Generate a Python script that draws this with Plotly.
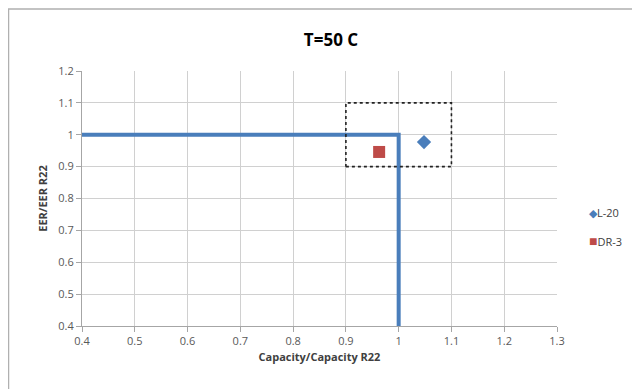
import plotly.graph_objects as go

# Data
boundary_x = [0.4, 1.0, 1.0]
boundary_y = [1.0, 1.0, 0.4]
box_x = [0.9, 1.1, 1.1, 0.9, 0.9]
box_y = [0.9, 0.9, 1.1, 1.1, 0.9]
series_names = ["L-20", "DR-3"]
series_colors = ["#4a7ebb", "#be4b48"]
series_symbols = ["diamond", "square"]
series_glyphs = ["◆", "■"]
series_x = [1.048, 0.963]
series_y = [0.977, 0.946]
x_ticks = [0.4, 0.5, 0.6, 0.7, 0.8, 0.9, 1.0, 1.1, 1.2, 1.3]
x_labels = ["0.4", "0.5", "0.6", "0.7", "0.8", "0.9", "1", "1.1", "1.2", "1.3"]
y_ticks = [0.4, 0.5, 0.6, 0.7, 0.8, 0.9, 1.0, 1.1, 1.2]
y_labels = ["0.4", "0.5", "0.6", "0.7", "0.8", "0.9", "1", "1.1", "1.2"]

# the page body has an 8px margin; positions below are in window pixels minus OFF
OFF = 8
W, H = 640 - OFF, 389 - OFF
L, R, T, B = 82 - OFF, 640 - 557, 71 - OFF, 389 - 326
pw, ph = W - L - R, H - T - B
FONT = "Open Sans, Liberation Sans, sans-serif"

fig = go.Figure()
fig.add_trace(go.Scatter(x=boundary_x, y=boundary_y, mode="lines",
                         line=dict(color="#4a7ebb", width=4), showlegend=False, hoverinfo="skip"))
fig.add_trace(go.Scatter(x=box_x, y=box_y, mode="lines",
                         line=dict(color="#222222", width=1.6, dash="dot"), showlegend=False, hoverinfo="skip"))
marker_sizes = [11, 12]
for i in range(len(series_names)):
    fig.add_trace(go.Scatter(x=[series_x[i]], y=[series_y[i]], mode="markers", name=series_names[i],
                             showlegend=False,
                             marker=dict(symbol=series_symbols[i], size=marker_sizes[i], color=series_colors[i])))

axis_common = dict(showgrid=True, gridcolor="#d0d0d0", gridwidth=1, zeroline=False,
                   showline=True, linecolor="#a6a6a6", linewidth=1, automargin=False,
                   ticks="outside", ticklen=5, tickcolor="#a6a6a6",
                   tickfont=dict(family=FONT, size=11, color="#595959"))

# manual legend (compact, like the reference)
legend_rows_y = [212, 240]
glyph_sizes = [11, 14]
annotations = []
for i in range(len(series_names)):
    annotations.append(dict(
        xref="paper", yref="paper", x=(587 - OFF - L) / pw, y=1 - (legend_rows_y[i] - OFF - T) / ph,
        xanchor="left", yanchor="middle", showarrow=False,
        text=(f"<span style='color:{series_colors[i]};font-size:{glyph_sizes[i]}px'>{series_glyphs[i]}</span>"
              f"{series_names[i]}"),
        font=dict(family=FONT, size=11, color="#404040")))

fig.update_layout(
    width=W, height=H,
    margin=dict(l=L, r=R, t=T, b=B, autoexpand=False),
    paper_bgcolor="white", plot_bgcolor="white",
    showlegend=False,
    title=dict(text="<b>T=50 C</b>", x=(331 - OFF) / W, xanchor="center", y=1 - (40 - OFF) / H,
               yanchor="middle", font=dict(family=FONT, size=17, color="#000000"), automargin=False),
    xaxis=dict(range=[0.4, 1.3], tickvals=x_ticks, ticktext=x_labels,
               title=dict(text="<b>Capacity/Capacity R22</b>", standoff=6,
                          font=dict(family=FONT, size=11, color="#404040")),
               **axis_common),
    yaxis=dict(range=[0.4, 1.2], tickvals=y_ticks, ticktext=y_labels,
               title=dict(text="<b>EER/EER R22</b>", standoff=8,
                          font=dict(family=FONT, size=11, color="#404040")),
               **axis_common),
    annotations=annotations,
    shapes=[dict(type="rect", xref="paper", yref="paper",
                 x0=(0.5 - L) / pw, x1=(W + 5 - L) / pw,
                 y0=-(H + 5 - T - ph) / ph, y1=1 + (T - 1) / ph,
                 line=dict(color="#b0b0b0", width=1.5))],
)
fig.write_html("out.html")
